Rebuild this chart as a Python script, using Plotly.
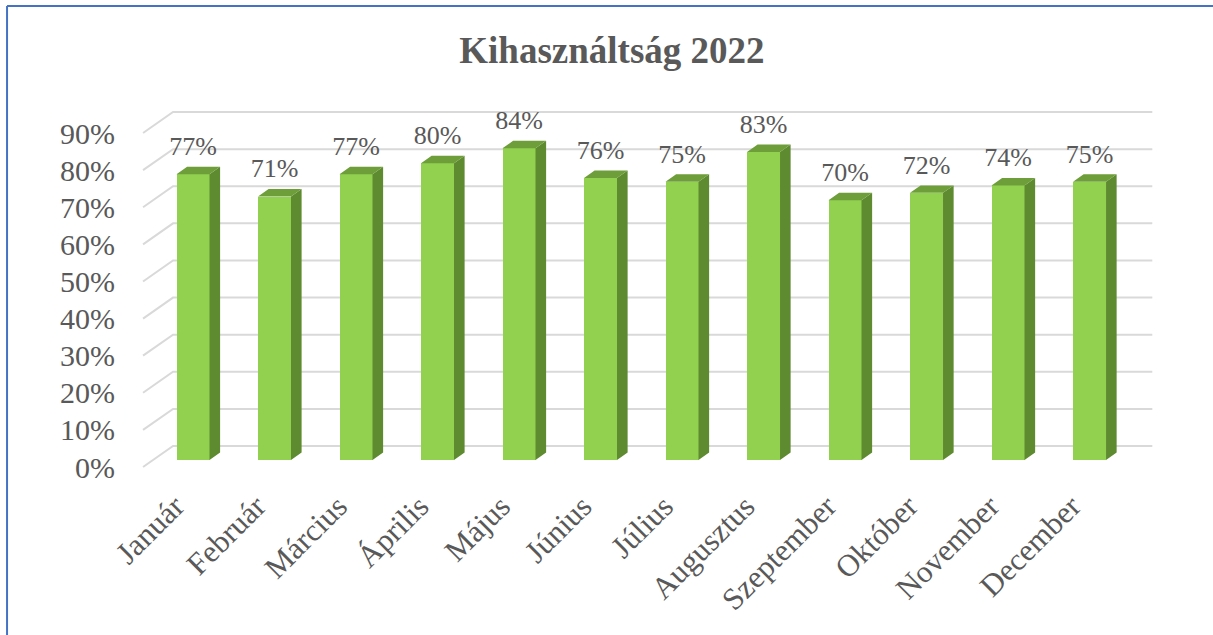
import plotly.graph_objects as go

months = ["Január", "Február", "Március", "Április", "Május", "Június",
          "Július", "Augusztus", "Szeptember", "Október", "November", "December"]
usage = [77, 71, 77, 80, 84, 76, 75, 83, 70, 72, 74, 75]
grid_levels = [0, 10, 20, 30, 40, 50, 60, 70, 80, 90]

COLORS = {
    "front": "#92D050",
    "side": "#5E8A30",
    "top": "#6E9E3A",
    "grid": "#D9D9D9",
    "text": "#595959",
    "frame": "#4472C4",
}
FONT = "Liberation Serif"

# fake 3D geometry (in axis units)
BAR_W = 0.405
BASE = 1.886        # front face of bars sits a bit behind the floor edge
DX, DY = 0.13, 2.0  # bar depth offset
WALL_X0, WALL_X1, WALL_X2 = -0.613, -0.245, 11.77
WALL_DY = 5.66

xs = list(range(len(months)))

fig = go.Figure()

# back wall gridlines with the diagonal floor edge (below the bars)
for lv in grid_levels:
    fig.add_shape(type="path", xref="x", yref="y", layer="below",
                  path=f"M {WALL_X0},{lv} L {WALL_X1},{lv + WALL_DY} L {WALL_X2},{lv + WALL_DY}",
                  line=dict(color=COLORS["grid"], width=2))

# front faces
fig.add_trace(go.Bar(x=xs, y=usage, base=BASE, width=BAR_W,
                     marker=dict(color=COLORS["front"], line=dict(width=0)),
                     showlegend=False))

# side and top faces
sx, sy, tx, ty = [], [], [], []
for c, v in zip(xs, usage):
    r, l = c + BAR_W / 2, c - BAR_W / 2
    top = BASE + v
    sx += [r, r + DX, r + DX, r, r, None]
    sy += [BASE, BASE + DY, top + DY, top, BASE, None]
    tx += [l, l + DX, r + DX, r, l, None]
    ty += [top, top + DY, top + DY, top, top, None]
fig.add_trace(go.Scatter(x=sx, y=sy, mode="lines", fill="toself",
                         fillcolor=COLORS["side"], line=dict(width=0),
                         hoverinfo="skip", showlegend=False))
fig.add_trace(go.Scatter(x=tx, y=ty, mode="lines", fill="toself",
                         fillcolor=COLORS["top"], line=dict(width=0),
                         hoverinfo="skip", showlegend=False))

# data labels
fig.add_trace(go.Scatter(x=xs, y=[v + BASE + 6.9 for v in usage], mode="text",
                         text=[f"{v}%" for v in usage],
                         textfont=dict(family=FONT, size=26, color=COLORS["text"]),
                         hoverinfo="skip", showlegend=False))

# frame lines (top and left edge)
fig.add_shape(type="line", xref="paper", yref="paper", x0=-0.1171, x1=1.1, y0=1.2507, y1=1.2507,
              line=dict(color=COLORS["frame"], width=2))
fig.add_shape(type="line", xref="paper", yref="paper", x0=-0.1171, x1=-0.1171, y0=1.2507, y1=-0.5,
              line=dict(color=COLORS["frame"], width=2))

fig.update_layout(
    width=1213, height=635,
    paper_bgcolor="white", plot_bgcolor="white",
    margin=dict(l=130, r=33, t=100, b=160),
    font=dict(family=FONT, color=COLORS["text"]),
    title=dict(text="<b>Kihasználtság 2022</b>", x=0.5045, y=0.921, xanchor="center",
               yanchor="middle", font=dict(family=FONT, size=37, color=COLORS["text"])),
    xaxis=dict(range=[-0.773, 12.11], tickvals=xs, ticktext=months, tickangle=-45,
               showgrid=False, zeroline=False, showline=False,
               ticklabelshift=-18, ticklabelstandoff=6,
               tickfont=dict(family=FONT, size=31, color=COLORS["text"])),
    yaxis=dict(range=[-2.156, 98.9], tickvals=grid_levels,
               ticktext=[f"{v}%" for v in grid_levels],
               showgrid=False, zeroline=False, showline=False, ticklabelstandoff=14,
               tickfont=dict(family=FONT, size=30, color=COLORS["text"])),
    bargap=0,
)

fig.write_html("out.html", config={"displayModeBar": False},
               post_script="document.body.style.margin='0';")
